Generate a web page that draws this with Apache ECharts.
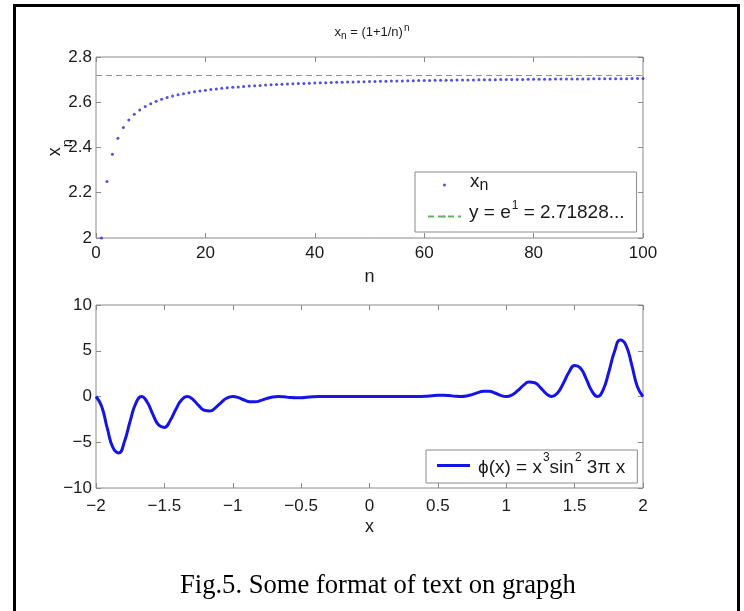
<!DOCTYPE html>
<html>
<head>
<meta charset="utf-8">
<script src="https://cdn.jsdelivr.net/npm/echarts@6/dist/echarts.min.js"></script>
<style>
html,body{margin:0;padding:0;background:#fff;}
#chart{width:744px;height:611px;}
</style>
</head>
<body>
<div id="chart"></div>
<script>
// ---- data (top panel) ----
const nValues = [1,2,3,4,5,6,7,8,9,10,11,12,13,14,15,16,17,18,19,20,21,22,23,24,25,26,27,28,29,30,31,32,33,34,35,36,37,38,39,40,41,42,43,44,45,46,47,48,49,50,51,52,53,54,55,56,57,58,59,60,61,62,63,64,65,66,67,68,69,70,71,72,73,74,75,76,77,78,79,80,81,82,83,84,85,86,87,88,89,90,91,92,93,94,95,96,97,98,99,100];
const xnValues = [2,2.25,2.3704,2.4414,2.4883,2.5216,2.5465,2.5658,2.5812,2.5937,
2.6042,2.6130,2.6206,2.6272,2.6329,2.6379,2.6424,2.6464,2.6500,2.6533,
2.6563,2.6590,2.6614,2.6637,2.6658,2.6678,2.6696,2.6713,2.6728,2.6743,
2.6757,2.6770,2.6782,2.6794,2.6804,2.6815,2.6824,2.6834,2.6842,2.6851,
2.6859,2.6866,2.6873,2.6880,2.6887,2.6893,2.6899,2.6905,2.6911,2.6916,
2.6921,2.6926,2.6931,2.6935,2.6940,2.6944,2.6948,2.6952,2.6956,2.6960,
2.6963,2.6967,2.6970,2.6973,2.6977,2.6980,2.6983,2.6986,2.6988,2.6991,
2.6994,2.6996,2.6999,2.7001,2.7004,2.7006,2.7008,2.7011,2.7013,2.7015,
2.7017,2.7019,2.7021,2.7023,2.7025,2.7026,2.7028,2.7030,2.7032,2.7033,
2.7035,2.7037,2.7038,2.7040,2.7041,2.7043,2.7044,2.7045,2.7047,2.7048];
const eLineN = [0, 100];
const eValue = 2.71828;

// ---- data (bottom panel) ----
const phiX = [-2,-1.9583,-1.9167,-1.875,-1.8333,-1.7917,-1.75,-1.7083,
-1.6667,-1.625,-1.5833,-1.5417,-1.5,-1.4583,-1.4167,-1.375,
-1.3333,-1.2917,-1.25,-1.2083,-1.1667,-1.125,-1.0833,-1.0417,
-1,-0.9583,-0.9167,-0.875,-0.8333,-0.7917,-0.75,-0.7083,
-0.6667,-0.625,-0.5833,-0.5417,-0.5,-0.4583,-0.4167,-0.375,
-0.3333,-0.2917,-0.25,-0.2083,-0.1667,-0.125,-0.0833,-0.0417,
0,
0.0417,0.0833,0.125,0.1667,0.2083,0.25,0.2917,0.3333,
0.375,0.4167,0.4583,0.5,0.5417,0.5833,0.625,0.6667,
0.7083,0.75,0.7917,0.8333,0.875,0.9167,0.9583,1,
1.0417,1.0833,1.125,1.1667,1.2083,1.25,1.2917,1.3333,
1.375,1.4167,1.4583,1.5,1.5417,1.5833,1.625,1.6667,
1.7083,1.75,1.7917,1.8333,1.875,1.9167,1.9583,2];
const phiY = [0,-1.0999,-3.5206,-5.6264,-6.162,-4.9091,-2.6797,-0.7301,
0,-0.6284,-1.9847,-3.1275,-3.375,-2.6473,-1.4216,-0.3807,
0,-0.3156,-0.9766,-1.5059,-1.588,-1.2153,-0.6357,-0.1655,
0,-0.1289,-0.3851,-0.5718,-0.5787,-0.4235,-0.2109,-0.0521,
0,-0.0358,-0.0993,-0.1357,-0.125,-0.0822,-0.0362,-0.0077,
0,-0.0036,-0.0078,-0.0077,-0.0046,-0.0017,-0.0003,0,
0,
0,0.0003,0.0017,0.0046,0.0077,0.0078,0.0036,0,
0.0077,0.0362,0.0822,0.125,0.1357,0.0993,0.0358,0,
0.0521,0.2109,0.4235,0.5787,0.5718,0.3851,0.1289,0,
0.1655,0.6357,1.2153,1.588,1.5059,0.9766,0.3156,0,
0.3807,1.4216,2.6473,3.375,3.1275,1.9847,0.6284,0,
0.7301,2.6797,4.9091,6.162,5.6264,3.5206,1.0999,0];

// ---- texts ----
const topTitle = '{a|x}{s|n}{a| = (1+1/n)}{p|n}';
const caption = 'Fig.5. Some format of text on grapgh';
const xnName = 'x_n';
const eName = 'e_line';
const phiName = 'phi';

const FONT = 'Liberation Sans, Arial, sans-serif';
const AX = '#8a8a8a';
const TXT = '#1a1a1a';
const minus = v => String(v).replace('-', '\u2212');

function mkX(grid, pos, min, max, interval, showLabel, margin, name) {
  return {
    type: 'value', gridIndex: grid, position: pos, min: min, max: max, interval: interval,
    axisLine: {show: false, onZero: false},
    axisTick: {show: true, inside: true, length: 5, lineStyle: {color: AX}},
    splitLine: {show: false},
    axisLabel: {show: showLabel, margin: margin, color: TXT, fontFamily: FONT, fontSize: 17, formatter: minus},
    name: name || '', nameLocation: 'middle', nameGap: 30, nameMoveOverlap: false,
    nameTextStyle: {fontFamily: FONT, fontSize: 18, color: TXT}
  };
}
function mkY(grid, pos, min, max, interval, showLabel) {
  return {
    type: 'value', gridIndex: grid, position: pos, min: min, max: max, interval: interval,
    axisLine: {show: false, onZero: false},
    axisTick: {show: true, inside: true, length: 5, lineStyle: {color: AX}},
    splitLine: {show: false},
    axisLabel: {show: showLabel, margin: 4, color: TXT, fontFamily: FONT, fontSize: 17, formatter: minus}
  };
}

const yTop = mkY(0, 'left', 2, 2.8, 0.2, true);
yTop.name = '{a|x}{b|n}';
yTop.nameLocation = 'middle';
yTop.nameRotate = 90;
yTop.nameGap = 20;
yTop.nameMoveOverlap = false;
yTop.nameTextStyle = {
  fontFamily: FONT, color: TXT,
  rich: {
    a: {fontFamily: FONT, fontSize: 18, lineHeight: 30, verticalAlign: 'top', color: TXT},
    b: {fontFamily: FONT, fontSize: 15, lineHeight: 30, verticalAlign: 'top', padding: [14, 0, 0, 0], color: TXT}
  }
};

const chart = echarts.init(document.getElementById('chart'), null, {renderer: 'canvas'});
chart.setOption({
  animation: false,
  backgroundColor: '#fff',
  title: [
    {
      text: topTitle, left: 'center', top: 20,
      textStyle: {
        fontFamily: FONT, fontSize: 14, fontWeight: 'normal', color: TXT,
        rich: {
          a: {fontFamily: FONT, fontSize: 13, color: TXT, lineHeight: 15},
          s: {fontFamily: FONT, fontSize: 10, color: TXT, lineHeight: 15, padding: [7, 0, 0, 0]},
          p: {fontFamily: FONT, fontSize: 10, color: TXT, lineHeight: 15, padding: [0, 0, 8, 1]}
        }
      }
    },
    {
      text: caption, left: 175, top: 568,
      textStyle: {fontFamily: 'Liberation Serif, Times New Roman, serif', fontSize: 26.6, fontWeight: 'normal', color: '#000'}
    }
  ],
  grid: [
    {left: 96, top: 57, width: 547, height: 181, show: true, borderColor: AX, borderWidth: 1, backgroundColor: 'transparent'},
    {left: 96, top: 305, width: 547, height: 183, show: true, borderColor: AX, borderWidth: 1, backgroundColor: 'transparent'}
  ],
  xAxis: [
    mkX(0, 'bottom', 0, 100, 20, true, 7, 'n'),
    mkX(0, 'top', 0, 100, 20, false, 7),
    mkX(1, 'bottom', -2, 2, 0.5, true, 10, 'x'),
    mkX(1, 'top', -2, 2, 0.5, false, 10)
  ],
  yAxis: [
    yTop,
    mkY(0, 'right', 2, 2.8, 0.2, false),
    mkY(1, 'left', -10, 10, 5, true),
    mkY(1, 'right', -10, 10, 5, false)
  ],
  legend: [
    {
      left: 415, top: 172, orient: 'vertical', selectedMode: false,
      data: [xnName, eName],
      itemWidth: 33, itemHeight: 3, itemGap: 6,
      padding: [0, 12, 10, 12],
      borderColor: AX, borderWidth: 1, backgroundColor: '#fff',
      formatter: function (name) {
        return name === xnName ? '{x|x}{sub|n}' : '{t|y = e}{sup|1}{u| = 2.71828...}';
      },
      textStyle: {
        fontFamily: FONT, fontSize: 19, color: TXT,
        rich: {
          x: {fontFamily: FONT, fontSize: 19, color: TXT, lineHeight: 26, verticalAlign: 'top', padding: [0, 0, 0, 4]},
          sub: {fontFamily: FONT, fontSize: 16, color: TXT, lineHeight: 26, verticalAlign: 'top', padding: [6, 0, 0, 0]},
          t: {fontFamily: FONT, fontSize: 19, color: TXT, lineHeight: 33, verticalAlign: 'top', padding: [3, 0, 0, 3]},
          sup: {fontFamily: FONT, fontSize: 12, color: TXT, lineHeight: 33, verticalAlign: 'top', padding: [0, 0, 0, 1]},
          u: {fontFamily: FONT, fontSize: 19, color: TXT, lineHeight: 33, verticalAlign: 'top', padding: [3, 0, 0, 0]}
        }
      }
    },
    {
      left: 426, top: 450, orient: 'vertical', selectedMode: false,
      data: [{name: phiName, icon: 'rect'}],
      itemWidth: 33, itemHeight: 3,
      padding: [2, 12, 6, 11],
      borderColor: AX, borderWidth: 1, backgroundColor: '#fff',
      formatter: function () {
        return '{f|\u03D5(x) = x}{sup|3}{t|sin}{sup|2}{t| 3\u03C0 x}';
      },
      textStyle: {
        fontFamily: FONT, fontSize: 19, color: TXT,
        rich: {
          f: {fontFamily: FONT, fontSize: 19, color: TXT, lineHeight: 27, verticalAlign: 'top', padding: [6, 0, 0, 3]},
          t: {fontFamily: FONT, fontSize: 19, color: TXT, lineHeight: 27, verticalAlign: 'top', padding: [6, 0, 0, 0]},
          sup: {fontFamily: FONT, fontSize: 12, color: TXT, lineHeight: 27, verticalAlign: 'top', padding: [0, 0, 0, 1]}
        }
      }
    }
  ],
  series: [
    {
      name: xnName, type: 'scatter', xAxisIndex: 0, yAxisIndex: 0,
      symbol: 'circle', symbolSize: 3,
      itemStyle: {color: '#2424dc'},
      data: nValues.map((n, i) => [n, xnValues[i]]),
      z: 3
    },
    {
      name: eName, type: 'line', xAxisIndex: 0, yAxisIndex: 0,
      symbol: 'none', showSymbol: false,
      lineStyle: {color: '#5fb35f', width: 1, type: [6, 4]},
      itemStyle: {color: '#5fb35f'},
      data: eLineN.map(n => [n, eValue]),
      z: 2
    },
    {
      name: phiName, type: 'line', xAxisIndex: 2, yAxisIndex: 2,
      symbol: 'none', showSymbol: false, smooth: true,
      lineStyle: {color: '#1414e6', width: 3},
      itemStyle: {color: '#1414e6'},
      data: phiX.map((x, i) => [x, phiY[i]]),
      z: 2
    }
  ],
  graphic: [
    {
      type: 'rect', left: 12, top: 3, z: 100, silent: true,
      shape: {width: 724, height: 700},
      style: {fill: 'none', stroke: '#000', lineWidth: 3}
    }
  ]
});
</script>
</body>
</html>
